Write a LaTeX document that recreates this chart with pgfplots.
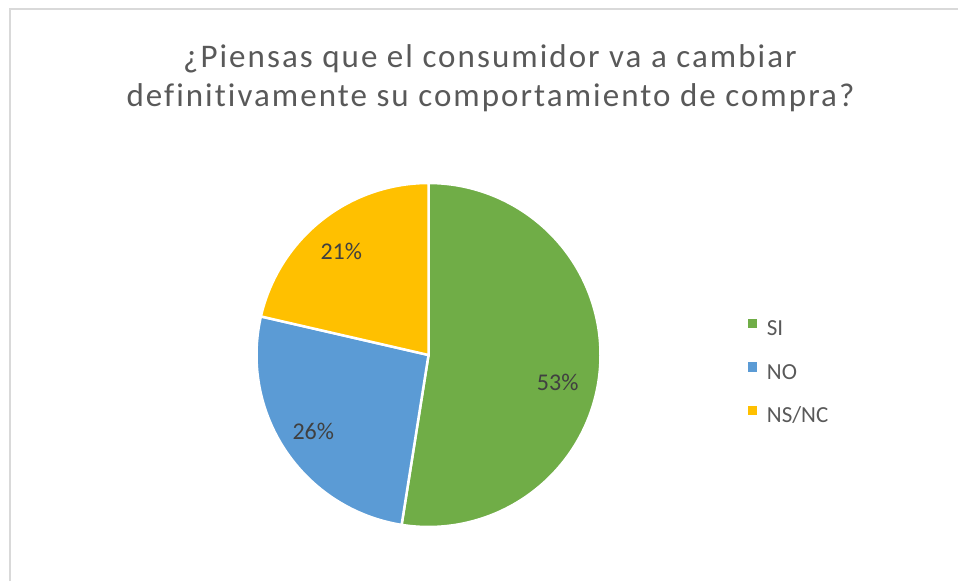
\documentclass[border=0pt]{standalone}
\usepackage{pgfplots}
\pgfplotsset{compat=1.18}
\usepackage{fontspec}
\setmainfont{Carlito}
\newfontfamily\titlefont{Carlito}[LetterSpace=6.2, Ligatures=NoCommon]
\definecolor{cSI}{HTML}{70AD47}
\definecolor{cNO}{HTML}{5B9BD5}
\definecolor{cNS}{HTML}{FFC000}
\definecolor{titlegray}{HTML}{595959}
\definecolor{labelgray}{HTML}{404040}
\definecolor{bordergray}{HTML}{D9D9D9}
% survey shares (percent), as drawn by the slices
\def\vSI{52.5}
\def\vNO{26.1}
\def\vNS{21.4}
\newcommand{\pct}[1]{\pgfmathprintnumber[fixed,precision=0,assume math mode=true]{#1}\%}
\begin{document}
\begin{tikzpicture}[x=1pt,y=1pt]
\useasboundingbox (0,0) rectangle (958,581);
\draw[color=bordergray, line width=2pt] (9.5,0) -- (9.5,571.5) -- (958,571.5);
\node[anchor=base, text=titlegray, font=\titlefont\fontsize{33}{38}\selectfont, inner sep=0pt] at (490,513) {¿Piensas que el consumidor va a cambiar};
\node[anchor=base, text=titlegray, font=\titlefont\fontsize{33}{38}\selectfont, inner sep=0pt] at (490.5,474) {definitivamente su comportamiento de compra?};
\begin{axis}[
  at={(428.5pt,226pt)}, anchor=center,
  scale only axis, width=344pt, height=344pt,
  xmin=-1, xmax=1, ymin=-1, ymax=1,
  hide axis, clip=false,
  legend style={at={(1.428,0.447)}, anchor=west, draw=none, fill=none,
    font=\fontsize{23}{23}\selectfont, text=titlegray,
    inner sep=0pt, row sep=21.3pt, legend cell align=left,
    nodes={inner sep=0pt, text height=16pt, text depth=5pt},
    /tikz/every odd column/.append style={column sep=9.5pt}},
  legend image code/.code={\fill[#1,draw=none] (0pt,2pt) rectangle (9.5pt,11.5pt);},
]
\addplot[fill=cSI, draw=white, line width=2.5pt, domain=90:{90-3.6*\vSI}, samples=150, variable=\t]
  ({cos(\t)},{sin(\t)}) -- (axis cs:0,0) -- cycle;
\addlegendentry{SI}
\addplot[fill=cNO, draw=white, line width=2.5pt, domain={90-3.6*\vSI}:{90-3.6*(\vSI+\vNO)}, samples=80, variable=\t]
  ({cos(\t)},{sin(\t)}) -- (axis cs:0,0) -- cycle;
\addlegendentry{NO}
\addplot[fill=cNS, draw=white, line width=2.5pt, domain={90-3.6*(\vSI+\vNO)}:{90-3.6*(\vSI+\vNO+\vNS)}, samples=70, variable=\t]
  ({cos(\t)},{sin(\t)}) -- (axis cs:0,0) -- cycle;
\addlegendentry{NS/NC}
\node[text=labelgray, font=\fontsize{24}{24}\selectfont, inner sep=0pt] at (axis cs:0.751,-0.162) {\pct{\vSI}};
\node[text=labelgray, font=\fontsize{24}{24}\selectfont, inner sep=0pt] at (axis cs:-0.670,-0.446) {\pct{\vNO}};
\node[text=labelgray, font=\fontsize{24}{24}\selectfont, inner sep=0pt] at (axis cs:-0.507,0.603) {\pct{\vNS}};
\end{axis}
\end{tikzpicture}
\end{document}
